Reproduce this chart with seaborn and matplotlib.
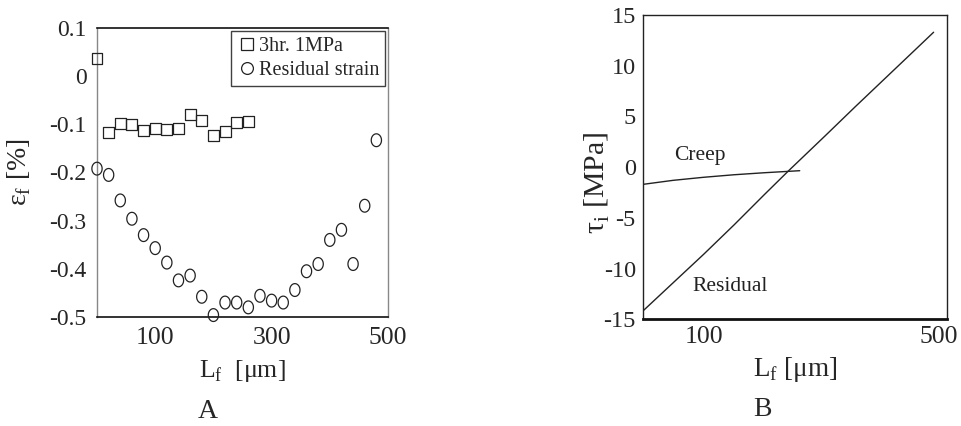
import numpy as np
import pandas as pd
import matplotlib
matplotlib.use("Agg")
import matplotlib.pyplot as plt
from matplotlib.path import Path
from matplotlib.transforms import ScaledTranslation
from matplotlib.lines import Line2D
import seaborn as sns

# ---- data (panel A) ----
creep_x = [0, 20, 40, 60, 80, 100, 120, 140, 160, 180, 200, 220, 240, 260]
creep_eps = [0.037, -0.116, -0.098, -0.101, -0.112, -0.109, -0.110, -0.108,
             -0.079, -0.093, -0.123, -0.115, -0.096, -0.094]
resid_x = [0, 20, 40, 60, 80, 100, 120, 140, 160, 180, 200, 220, 240, 260,
           280, 300, 320, 340, 360, 380, 400, 420, 440, 460, 480]
resid_eps = [-0.192, -0.205, -0.258, -0.296, -0.330, -0.357, -0.387, -0.424,
             -0.414, -0.458, -0.496, -0.470, -0.470, -0.480, -0.456, -0.466,
             -0.470, -0.444, -0.405, -0.390, -0.340, -0.319, -0.390, -0.269,
             -0.133]
a_yticks = [0.1, 0, -0.1, -0.2, -0.3, -0.4, -0.5]
a_ytick_labels = ["0.1", "0", "-0.1", "-0.2", "-0.3", "-0.4", "-0.5"]
a_xticks = [100, 200, 300, 400, 500]
a_xtick_labels = ["100", "", "300", "", "500"]

# ---- data (panel B) ----
creep_line_x = [0, 50, 100, 150, 200, 258]
creep_line_tau = [-1.70, -1.30, -1.00, -0.75, -0.55, -0.35]
resid_line_x = [0, 50, 100, 150, 200, 240, 300, 350, 400, 450, 478]
resid_line_tau = [-14.2, -11.4, -8.6, -5.7, -2.7, -0.34, 3.1, 6.0, 8.85, 11.7, 13.3]
b_yticks = [15, 10, 5, 0, -5, -10, -15]
b_ytick_labels = ["15", "10", "5", "0", "-5", "-10", "-15"]
b_xticks = [100, 200, 300, 400, 500]
b_xtick_labels = ["100", "", "", "", "500"]

sns.set_style("white")
plt.rcParams["font.family"] = ["Liberation Serif", "DejaVu Serif"]
plt.rcParams["mathtext.fontset"] = "custom"
plt.rcParams["mathtext.rm"] = "Liberation Serif"

fig = plt.figure(figsize=(9.61, 4.26), dpi=100)
W, H = 961, 426

def box(l, t, r, b):
    return [l / W, 1 - b / H, (r - l) / W, (b - t) / H]

axA = fig.add_axes(box(97, 28, 388, 317))
axB = fig.add_axes(box(642.7, 15, 947, 319.3))

# slightly tall ellipse marker like the reference circles
th = np.linspace(0, 2 * np.pi, 61)
ellipse = Path(np.column_stack([0.8 * np.cos(th), np.sin(th)]), closed=True)

# ---- Panel A ----
dfc = pd.DataFrame({"x": creep_x, "y": creep_eps})
dfr = pd.DataFrame({"x": resid_x, "y": resid_eps})
sns.scatterplot(data=dfc, x="x", y="y", ax=axA, marker="s", s=62,
                facecolor="none", edgecolor="#222222", linewidth=0.9,
                zorder=3, clip_on=False, legend=False)
sns.scatterplot(data=dfr, x="x", y="y", ax=axA, marker=ellipse, s=85,
                facecolor="none", edgecolor="#222222", linewidth=0.9,
                zorder=3, clip_on=False, legend=False)
axA.set_xlim(0, 500)
axA.set_ylim(-0.5, 0.1)
axA.set_yticks(a_yticks)
axA.set_yticklabels(a_ytick_labels)
axA.set_xticks(a_xticks)
axA.set_xticklabels(a_xtick_labels)
axA.tick_params(axis="both", direction="inout", length=9, width=1.0,
                color="#222222", pad=3)
axA.tick_params(axis="y", labelsize=17)
axA.tick_params(axis="x", labelsize=18.5)
for s in ["left", "right"]:
    axA.spines[s].set_color("#888888")
    axA.spines[s].set_linewidth(1.0)
for s in ["top", "bottom"]:
    axA.spines[s].set_color("#111111")
    axA.spines[s].set_linewidth(1.2)
axA.set_xlabel(r"L$_{\mathrm{f}}$  [$\mathrm{\mu}$m]", fontsize=18.5)
axA.set_ylabel(r"ε$_{\mathrm{f}}$ [%]", fontsize=20)
axA.xaxis.set_label_coords(0.5, -0.142)
axA.yaxis.set_label_coords(-0.22, 0.5)

handles = [Line2D([], [], linestyle="none", marker="s", markersize=8.5,
                  markerfacecolor="none", markeredgecolor="#222222", markeredgewidth=0.9),
           Line2D([], [], linestyle="none", marker="o", markersize=8.5,
                  markerfacecolor="none", markeredgecolor="#222222", markeredgewidth=0.9)]
leg = axA.legend(handles, ["3hr. 1MPa", "Residual strain"], loc="upper right",
                 fontsize=14.5, frameon=True, fancybox=False,
                 borderaxespad=0.15, handletextpad=0.05, borderpad=0.3,
                 labelspacing=0.25, handlelength=1.0)
leg.get_frame().set_edgecolor("#111111")
leg.get_frame().set_linewidth(1.0)

# ---- Panel B ----
dfcl = pd.DataFrame({"x": creep_line_x, "y": creep_line_tau})
dfrl = pd.DataFrame({"x": resid_line_x, "y": resid_line_tau})
sns.lineplot(data=dfcl, x="x", y="y", ax=axB, color="#222222", linewidth=1.0)
sns.lineplot(data=dfrl, x="x", y="y", ax=axB, color="#222222", linewidth=1.0)
axB.set_xlim(0, 500)
axB.set_ylim(-15, 15)
axB.set_yticks(b_yticks)
axB.set_yticklabels(b_ytick_labels)
axB.set_xticks(b_xticks)
axB.set_xticklabels(b_xtick_labels)
axB.tick_params(axis="both", direction="in", length=5, width=1.0,
                color="#222222", pad=5)
axB.tick_params(axis="y", labelsize=17.5)
axB.tick_params(axis="x", labelsize=18.5)
for s in ["left", "right", "top"]:
    axB.spines[s].set_color("#222222")
    axB.spines[s].set_linewidth(1.0)
axB.spines["bottom"].set_color("#111111")
axB.spines["bottom"].set_linewidth(2.0)
axB.set_xlabel(r"L$_{\mathrm{f}}$ [$\mathrm{\mu}$m]", fontsize=19.5)
axB.set_ylabel(r"τ$_{\mathrm{i}}$ [MPa]", fontsize=21.5)
axB.xaxis.set_label_coords(0.5, -0.117)
axB.yaxis.set_label_coords(-0.10, 0.45)
axB.text(94, 1.1, "Creep", fontsize=15.5, ha="center", va="center", color="#222222")
axB.text(143, -11.8, "Residual", fontsize=15.5, ha="center", va="center", color="#222222")

# shift the last x tick label of panel B left so it stays inside the figure
fig.canvas.draw()
lbl = axB.get_xticklabels()[-1]
lbl.set_transform(lbl.get_transform() + ScaledTranslation(-8 / 100, 0, fig.dpi_scale_trans))

fig.text(208 / W, 1 - 411 / H, "A", fontsize=20, ha="center", va="center")
fig.text(762 / W, 1 - 410 / H, "B", fontsize=20, ha="center", va="center")

fig.savefig("out.png", dpi=100)
